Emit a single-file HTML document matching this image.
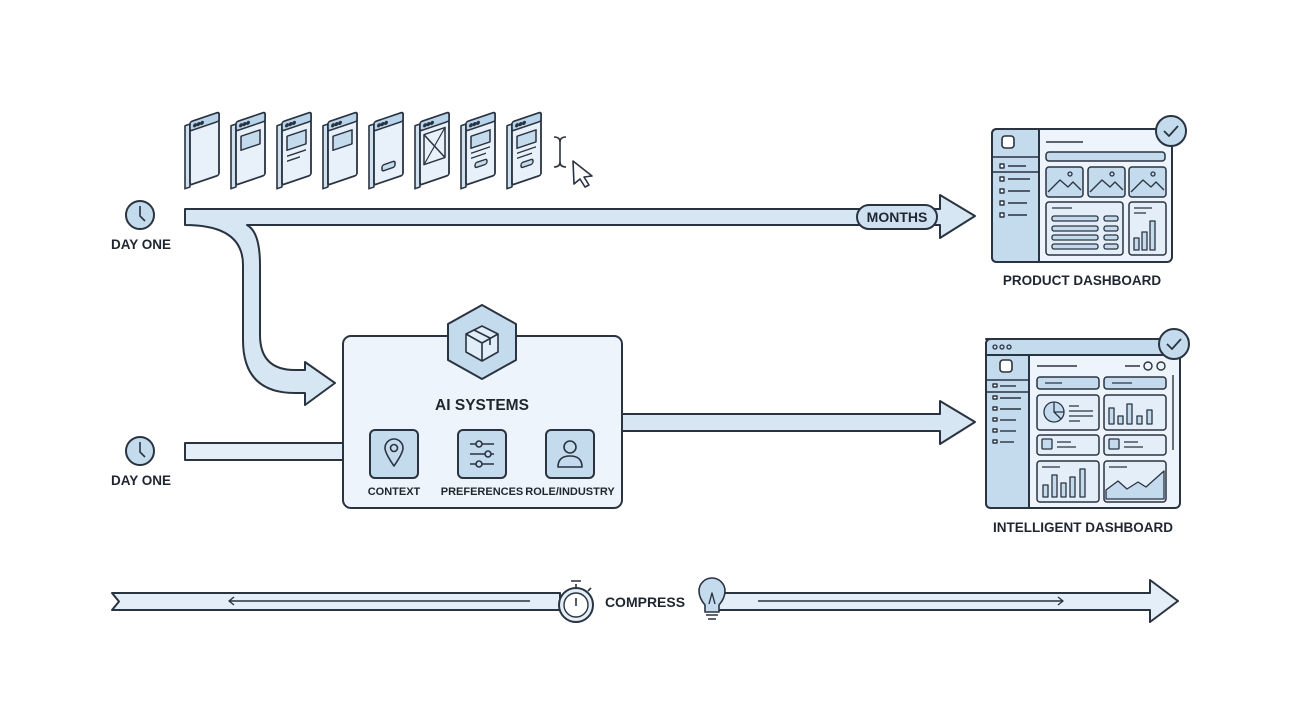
<!DOCTYPE html>
<html><head><meta charset="utf-8"><style>
html,body{margin:0;padding:0;background:#fff;}
svg{display:block;font-family:"Liberation Sans",sans-serif;}
text{fill:#1f2630;font-weight:bold;}
</style></head><body>
<svg width="1290" height="720" viewBox="0 0 1290 720" xmlns="http://www.w3.org/2000/svg">
<defs>
<g id="pg">
 <rect x="-5" y="2" width="5" height="63" fill="#cfe0ee" stroke="#2a3340" stroke-width="1.6"/>
 <rect x="0" y="0" width="29" height="63" rx="2" fill="#e8f1f9" stroke="#2a3340" stroke-width="1.8"/>
 <rect x="0" y="0" width="29" height="9" rx="2" fill="#b9d4ea" stroke="#2a3340" stroke-width="1.6"/>
 <circle cx="5" cy="5" r="1" fill="#2a3340"/><circle cx="8.5" cy="5" r="1" fill="#2a3340"/><circle cx="12" cy="5" r="1" fill="#2a3340"/>
</g>
</defs>
<g stroke="#2a3340" stroke-width="2" stroke-linejoin="round">
<!-- top arrow -->
<path d="M185 209 H940 V195 L975 216 L940 238 V225 H247 Q260 232 260 265 V335 Q260 370 295 370 H305 V362 L335 383 L305 405 V393 H295 Q243 393 243 340 V265 Q243 225 185 225 Z" fill="#d6e6f3"/>
<rect x="857" y="205" width="80" height="24" rx="12" fill="#cfe1f1"/>
<!-- bottom input -->
<rect x="185" y="443" width="158" height="17" fill="#e3eef8"/>
<!-- output arrow -->
<path d="M622 414 H940 V401 L975 422 L940 444 V431 H622 Z" fill="#d6e6f3"/>
<!-- AI box -->
<rect x="343" y="336" width="279" height="172" rx="8" fill="#edf4fb"/>
<polygon points="482,305 516,324 516,360 482,379 448,360 448,324" fill="#c4dbee"/>
<polygon points="482,326 498,334 498,352 482,361 466,352 466,334" fill="#e1edf8" stroke-width="1.6"/>
<path d="M466 334 L482 343 L498 334 M482 343 V361 M474 330 L490 338 V345" fill="none" stroke-width="1.6"/>
<rect x="370" y="430" width="48" height="48" rx="5" fill="#c4dbee"/>
<rect x="458" y="430" width="48" height="48" rx="5" fill="#c4dbee"/>
<rect x="546" y="430" width="48" height="48" rx="5" fill="#c4dbee"/>
<path d="M394 466 Q385 453 385 448 A9 9 0 0 1 403 448 Q403 453 394 466 Z" fill="none" stroke-width="1.6"/>
<circle cx="394" cy="448" r="3.5" fill="none" stroke-width="1.6"/>
<path d="M470 444 H494 M470 454 H494 M470 464 H494" stroke-width="1.6"/>
<circle cx="479" cy="444" r="3" fill="#c4dbee" stroke-width="1.6"/><circle cx="488" cy="454" r="3" fill="#c4dbee" stroke-width="1.6"/><circle cx="479" cy="464" r="3" fill="#c4dbee" stroke-width="1.6"/>
<circle cx="570" cy="447" r="6" fill="none" stroke-width="1.6"/>
<path d="M558 467 Q558 456 570 456 Q582 456 582 467 Z" fill="none" stroke-width="1.6"/>
<!-- clocks -->
<circle cx="140" cy="215" r="14" fill="#c4dbee"/><path d="M140 206 V216 L145 221" fill="none" stroke-width="1.6"/>
<circle cx="140" cy="451" r="14" fill="#c4dbee"/><path d="M140 442 V452 L145 457" fill="none" stroke-width="1.6"/>
<!-- pages -->
<g transform="matrix(1,-0.34,0,1,190,122)"><use href="#pg"/></g>
<g transform="matrix(1,-0.34,0,1,236,122)"><use href="#pg"/><rect x="5" y="16" width="19" height="14" fill="#c4dbee" stroke-width="1.5"/></g>
<g transform="matrix(1,-0.34,0,1,282,122)"><use href="#pg"/><rect x="5" y="16" width="19" height="14" fill="#c4dbee" stroke-width="1.5"/><path d="M5 36 H24 M5 41 H18" stroke-width="1.5"/></g>
<g transform="matrix(1,-0.34,0,1,328,122)"><use href="#pg"/><rect x="5" y="16" width="19" height="14" fill="#c4dbee" stroke-width="1.5"/></g>
<g transform="matrix(1,-0.34,0,1,374,122)"><use href="#pg"/><rect x="8" y="46" width="13" height="6" rx="2" fill="#c4dbee" stroke-width="1.5"/></g>
<g transform="matrix(1,-0.34,0,1,420,122)"><use href="#pg"/><rect x="4" y="14" width="21" height="30" fill="#e8f1f9" stroke-width="1.5"/><path d="M4 14 L25 44 M25 14 L4 44" stroke-width="1.3"/></g>
<g transform="matrix(1,-0.34,0,1,466,122)"><use href="#pg"/><rect x="5" y="16" width="19" height="12" fill="#c4dbee" stroke-width="1.5"/><path d="M5 33 H24 M5 38 H20" stroke-width="1.4"/><rect x="9" y="44" width="12" height="5" rx="2" fill="#c4dbee" stroke-width="1.4"/></g>
<g transform="matrix(1,-0.34,0,1,512,122)"><use href="#pg"/><rect x="5" y="16" width="19" height="12" fill="#c4dbee" stroke-width="1.5"/><path d="M5 33 H24 M5 38 H20" stroke-width="1.4"/><rect x="9" y="44" width="12" height="5" rx="2" fill="#c4dbee" stroke-width="1.4"/></g>
<path d="M554 137 Q560 137 560 142 V162 Q560 167 554 167 M566 137 Q560 137 560 142 M566 167 Q560 167 560 162" fill="none" stroke-width="1.6"/>
<path d="M573 161 L592 176 L584 177 L589 185 L585 187 L580 179 L574 184 Z" fill="#fff" stroke-width="1.6"/>
<!-- product dashboard -->
<rect x="992" y="129" width="180" height="133" rx="5" fill="#edf4fb"/>
<path d="M1039 129 V262 H997 Q992 262 992 257 V134 Q992 129 997 129 Z" fill="#c4dbee"/>
<rect x="1002" y="136" width="12" height="12" rx="3" fill="#fff" stroke-width="1.6"/>
<path d="M992 157 H1039 M992 172 H1039" stroke-width="1.4"/>
<g stroke-width="1.4"><rect x="1000" y="164" width="4" height="4" fill="#fff"/><path d="M1008 166 H1026"/>
<rect x="1000" y="177" width="4" height="4" fill="#fff"/><path d="M1008 179 H1030"/>
<rect x="1000" y="189" width="4" height="4" fill="#fff"/><path d="M1008 191 H1030"/>
<rect x="1000" y="201" width="4" height="4" fill="#fff"/><path d="M1008 203 H1027"/>
<rect x="1000" y="213" width="4" height="4" fill="#fff"/><path d="M1008 215 H1027"/>
<path d="M1046 142 H1083"/></g>
<rect x="1046" y="152" width="119" height="9" rx="3" fill="#c4dbee" stroke-width="1.5"/>
<g stroke-width="1.5" fill="#c4dbee">
<rect x="1046" y="167" width="37" height="30" rx="3"/><rect x="1088" y="167" width="37" height="30" rx="3"/><rect x="1129" y="167" width="37" height="30" rx="3"/>
</g>
<g fill="none" stroke-width="1.3"><path d="M1048 192 L1060 180 L1068 187 L1073 182 L1081 190"/><path d="M1090 192 L1102 180 L1110 187 L1115 182 L1123 190"/><path d="M1131 192 L1143 180 L1151 187 L1156 182 L1164 190"/>
<circle cx="1070" cy="174" r="2"/><circle cx="1112" cy="174" r="2"/><circle cx="1153" cy="174" r="2"/></g>
<rect x="1046" y="202" width="77" height="53" rx="3" fill="#e3eef8" stroke-width="1.5"/>
<rect x="1129" y="202" width="37" height="53" rx="3" fill="#e3eef8" stroke-width="1.5"/>
<g stroke-width="1.3" fill="#c4dbee"><path d="M1052 208 H1072 M1134 208 H1152 M1134 213 H1146" fill="none"/>
<rect x="1052" y="216" width="46" height="5" rx="2"/><rect x="1052" y="226" width="46" height="5" rx="2"/><rect x="1052" y="235" width="46" height="5" rx="2"/><rect x="1052" y="244" width="46" height="5" rx="2"/>
<rect x="1104" y="216" width="14" height="5" rx="2"/><rect x="1104" y="226" width="14" height="5" rx="2"/><rect x="1104" y="235" width="14" height="5" rx="2"/><rect x="1104" y="244" width="14" height="5" rx="2"/>
<rect x="1134" y="238" width="5" height="12"/><rect x="1142" y="232" width="5" height="18"/><rect x="1150" y="221" width="5" height="29"/></g>
<circle cx="1171" cy="131" r="15" fill="#c4dbee"/><path d="M1164 131 L1169 136 L1178 126" fill="none" stroke-width="1.8"/>
<!-- intelligent dashboard -->
<rect x="986" y="339" width="194" height="169" rx="5" fill="#edf4fb"/>
<path d="M986 355 H1180" stroke-width="1.6"/>
<path d="M986 339 h189 q5 0 5 5 v11 H986 V344 q0-5 5-5z" fill="#c4dbee"/>
<g fill="none" stroke-width="1.3"><circle cx="995" cy="347" r="2"/><circle cx="1002" cy="347" r="2"/><circle cx="1009" cy="347" r="2"/></g>
<path d="M1029 355 V508 H991 Q986 508 986 503 V355 Z" fill="#c4dbee"/>
<path d="M986 380 H1029 M986 392 H1029" stroke-width="1.4"/>
<rect x="1000" y="360" width="12" height="12" rx="3" fill="#fff" stroke-width="1.6"/>
<g stroke-width="1.4"><rect x="993" y="384" width="4" height="3" fill="#fff"/><path d="M1000 386 H1016"/>
<rect x="993" y="396" width="4" height="3" fill="#fff"/><path d="M1000 398 H1021"/>
<rect x="993" y="407" width="4" height="3" fill="#fff"/><path d="M1000 409 H1021"/>
<rect x="993" y="418" width="4" height="3" fill="#fff"/><path d="M1000 420 H1016"/>
<rect x="993" y="429" width="4" height="3" fill="#fff"/><path d="M1000 431 H1016"/>
<rect x="993" y="440" width="4" height="3" fill="#fff"/><path d="M1000 442 H1014"/>
<path d="M1037 366 H1077 M1125 366 H1140 M1173 375 V450"/><circle cx="1148" cy="366" r="4" fill="none"/><circle cx="1161" cy="366" r="4" fill="none"/></g>
<g stroke-width="1.5" fill="#c4dbee"><rect x="1037" y="377" width="62" height="12" rx="3"/><rect x="1104" y="377" width="62" height="12" rx="3"/></g>
<path d="M1045 383 H1062 M1112 383 H1132" stroke-width="1.3"/>
<g stroke-width="1.5" fill="#e3eef8"><rect x="1037" y="395" width="62" height="35" rx="3"/><rect x="1104" y="395" width="62" height="35" rx="3"/>
<rect x="1037" y="435" width="62" height="20" rx="3"/><rect x="1104" y="435" width="62" height="20" rx="3"/>
<rect x="1037" y="461" width="62" height="41" rx="3"/><rect x="1104" y="461" width="62" height="41" rx="3"/></g>
<g stroke-width="1.3" fill="#c4dbee">
<circle cx="1054" cy="412" r="10"/><path d="M1054 402 V412 H1064 M1054 412 L1061 419" fill="none"/><path d="M1069 406 H1079 M1069 411 H1093 M1069 416 H1093 M1069 421 H1080" fill="none"/>
<rect x="1109" y="408" width="5" height="16"/><rect x="1118" y="416" width="5" height="8"/><rect x="1127" y="404" width="5" height="20"/><rect x="1137" y="416" width="5" height="8"/><rect x="1147" y="410" width="5" height="14"/>
<rect x="1042" y="439" width="10" height="10" rx="1"/><rect x="1109" y="439" width="10" height="10" rx="1"/><path d="M1057 442 H1071 M1057 447 H1076 M1124 442 H1138 M1124 447 H1143" fill="none"/>
<path d="M1042 467 H1060 M1109 467 H1127" fill="none"/>
<rect x="1043" y="485" width="5" height="12"/><rect x="1052" y="475" width="5" height="22"/><rect x="1061" y="483" width="5" height="14"/><rect x="1070" y="477" width="5" height="20"/><rect x="1080" y="469" width="5" height="28"/>
<path d="M1106 499 V490 L1118 481 L1127 489 L1138 482 L1146 487 L1164 471 V499 Z"/></g>
<circle cx="1174" cy="344" r="15" fill="#c4dbee"/><path d="M1167 344 L1172 349 L1181 339" fill="none" stroke-width="1.8"/>
<!-- timeline -->
<path d="M112 593 H560 V610 H112 L119 601.5 Z" fill="#e3eef8"/>
<path d="M716 593 H1150 V580 L1178 601 L1150 622 V610 H716 Z" fill="#e3eef8"/>
<path d="M530 601 H229 M234 597 L229 601 L234 605 M758 601 H1062 M1058 597 L1063 601 L1058 605" fill="none" stroke-width="1.4"/>
<circle cx="576" cy="605" r="17" fill="#e3eef8"/><circle cx="576" cy="605" r="12" fill="#fff" stroke-width="1.4"/>
<path d="M576 598 V606 M576 588 V584 M571 581 H581" fill="none" stroke-width="1.6"/><path d="M588 591 L591 588" stroke-width="1.6"/>
<path d="M705 605 Q699 598 699 591 A13 13 0 0 1 725 591 Q725 598 719 605 V612 H705 Z" fill="#c4dbee" stroke-width="1.6"/>
<path d="M706 615 H718 M708 619 H716 M709 604 L712 593 L715 604" fill="none" stroke-width="1.4"/>
</g>
<g font-size="13.5" text-anchor="middle">
<text x="141" y="249">DAY ONE</text>
<text x="141" y="485">DAY ONE</text>
<text x="897" y="222" font-size="14">MONTHS</text>
<text x="1082" y="285">PRODUCT DASHBOARD</text>
<text x="1083" y="532">INTELLIGENT DASHBOARD</text>
<text x="482" y="410" font-size="15.5">AI SYSTEMS</text>
<text x="394" y="495" font-size="11">CONTEXT</text>
<text x="482" y="495" font-size="11">PREFERENCES</text>
<text x="570" y="495" font-size="11">ROLE/INDUSTRY</text>
<text x="645" y="607" font-size="14">COMPRESS</text>
</g>
</svg>
</body></html>
